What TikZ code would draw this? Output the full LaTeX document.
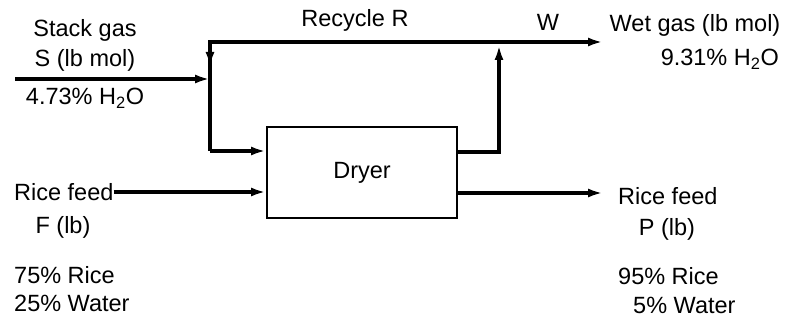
\documentclass[tikz,border=0pt]{standalone}
\usepackage{fontspec}
\setmainfont{Liberation Sans}
\usetikzlibrary{arrows.meta}
\begin{document}
\begin{tikzpicture}[x=1pt,y=-1pt,
  lbl/.style={inner sep=0pt,font=\fontsize{23.5}{28}\selectfont},
  flow/.style={line width=3.6pt,-{Latex[length=15pt,width=9pt]}},
  pipe/.style={line width=3.6pt},
  boxst/.style={draw,line width=2pt,minimum width=190pt,minimum height=91pt,inner sep=0pt}]
\useasboundingbox (0,0) rectangle (794,320);
\node[boxst,lbl] (dryer) at (362,172.5) {Dryer};
% coordinates
\coordinate (sin) at (15,79);
\coordinate (jin) at (210,79);
\coordinate (jtop) at (210,42);
\coordinate (jdown) at (210,67);
\coordinate (jbot) at (210,151);
\coordinate (wout) at (603,42);
\coordinate (rout) at (457,152);
\coordinate (rup) at (499,152);
\coordinate (rtop) at (499,45);
\coordinate (pend) at (603,193);
% labels
\node[lbl] (stack) at (85,30) {Stack gas};
\node[lbl] (smol) at (85,60) {S (lb mol)};
\node[lbl] (sh2o) at (85,98) {4.73\% H\textsubscript{2}O};
\node[lbl] (rec) at (355,20) {Recycle R};
\node[lbl] (w) at (548,22) {W};
\node[lbl] (wet) at (695,25) {Wet gas (lb mol)};
\node[lbl,anchor=east] (wh2o) at (779,59) {9.31\% H\textsubscript{2}O};
\node[lbl,anchor=west] (rf) at (14,192) {Rice feed};
\node[lbl] (fl) at (63,227) {F (lb)};
\node[lbl,anchor=west] (f1) at (14,275) {75\% Rice};
\node[lbl,anchor=west] (f2) at (14,303) {25\% Water};
\node[lbl,anchor=west] (pf) at (618,196) {Rice feed};
\node[lbl] (pl) at (667,229) {P (lb)};
\node[lbl,anchor=west] (p1) at (618,276) {95\% Rice};
\node[lbl,anchor=west] (p2) at (633,305) {5\% Water};
% streams
\draw[flow] (sin) -- (jin);
\draw[pipe] (jtop) -- (jbot);
\draw[flow] (jtop) -- (jdown);
\draw[flow] (jbot) -- (dryer.west |- jbot);
\draw[flow] ([xshift=-1.8pt]jtop) -- (wout);
\draw[flow] (rout) -- (rup) -- (rtop);
\draw[flow] (rf.east) -- (dryer.west |- rf.east);
\draw[flow] (dryer.east |- pend) -- (pend);
\end{tikzpicture}
\end{document}
